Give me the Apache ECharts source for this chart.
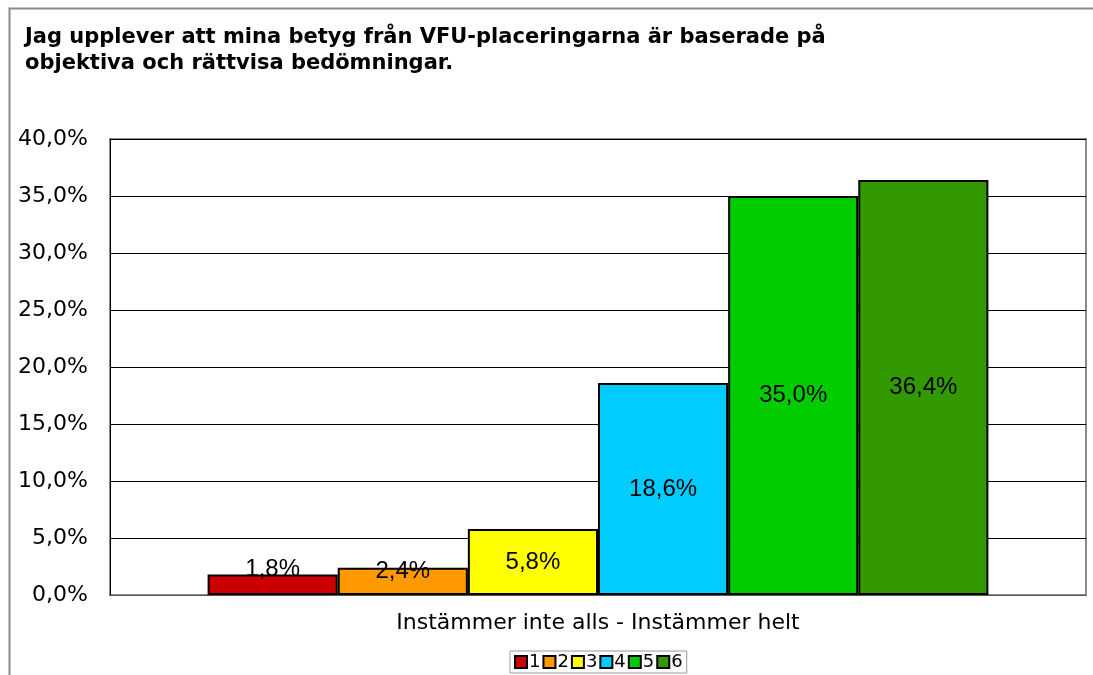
<!DOCTYPE html>
<html><head><meta charset="utf-8">
<style>html,body{margin:0;padding:0;background:#fff}#c{width:1093px;height:675px}</style>
<script src="https://cdn.jsdelivr.net/npm/echarts@6/dist/echarts.min.js"></script>
</head><body><div id="c"></div>
<script>
const titleText = "Jag upplever att mina betyg från VFU-placeringarna är baserade på\nobjektiva och rättvisa bedömningar.";
const categories = ["Instämmer inte alls - Instämmer helt"];
const seriesNames = ["1", "2", "3", "4", "5", "6"];
const seriesValues = [1.8, 2.4, 5.8, 18.6, 35.0, 36.4];
const seriesColors = ["#CC0000", "#FF9900", "#FFFF00", "#00CCFF", "#00CC00", "#339900"];
const labelOffsets = [[0, -15], [0, -10], [0, 0], [0, 0], [0, 0], [0, 0]];
const yTicks = { min: 0, max: 40, interval: 5 };

const fmt = v => v.toFixed(1).replace('.', ',') + '%';
const chart = echarts.init(document.getElementById('c'), null, { renderer: 'canvas' });
chart.setOption({
  animation: false,
  backgroundColor: '#fff',
  graphic: [{
    type: 'rect', left: 7, top: 6, shape: { width: 1200, height: 800 },
    style: { fill: 'none', stroke: '#8c8c8c', lineWidth: 2 }, z: -1
  }],
  title: {
    text: titleText, left: 20, top: 20,
    textStyle: { fontFamily: 'DejaVu Sans', fontWeight: 'bold', fontSize: 21, color: '#000', lineHeight: 26 }
  },
  grid: { left: 110, top: 139, right: 7, bottom: 80, show: true, borderColor: '#8c8c8c', borderWidth: 2, backgroundColor: '#fff' },
  xAxis: {
    type: 'category', data: categories,
    name: categories[0], nameLocation: 'middle', nameGap: 17,
    nameTextStyle: { fontFamily: 'DejaVu Sans', fontSize: 22, color: '#000' },
    axisLabel: { show: false }, axisTick: { show: false },
    axisLine: { lineStyle: { color: '#555', width: 1 } }
  },
  yAxis: {
    type: 'value', min: yTicks.min, max: yTicks.max, interval: yTicks.interval,
    axisLabel: { formatter: v => fmt(v), fontFamily: 'DejaVu Sans', fontSize: 22, color: '#000', margin: 22 },
    axisLine: { show: true, lineStyle: { color: '#000', width: 1 } },
    axisTick: { show: false },
    splitLine: { lineStyle: { color: '#000', width: 1 } }
  },
  legend: {
    data: seriesNames, bottom: 2, left: 510,
    itemWidth: 12, itemHeight: 12, itemGap: 2, icon: 'rect',
    padding: [2, 4], borderColor: '#999', borderWidth: 1,
    textStyle: { fontFamily: 'DejaVu Sans', fontSize: 18, color: '#000', padding: [0, 0, 0, -3] }
  },
  series: seriesNames.map((n, i) => ({
    name: n, type: 'bar', data: [seriesValues[i]],
    barGap: '0%', barCategoryGap: '20%',
    itemStyle: { color: seriesColors[i], borderColor: '#000', borderWidth: 2 },
    label: {
      show: true, position: 'inside', offset: labelOffsets[i],
      formatter: p => fmt(p.value),
      fontFamily: 'Liberation Sans', fontSize: 24, color: '#000'
    }
  }))
});
</script></body></html>
